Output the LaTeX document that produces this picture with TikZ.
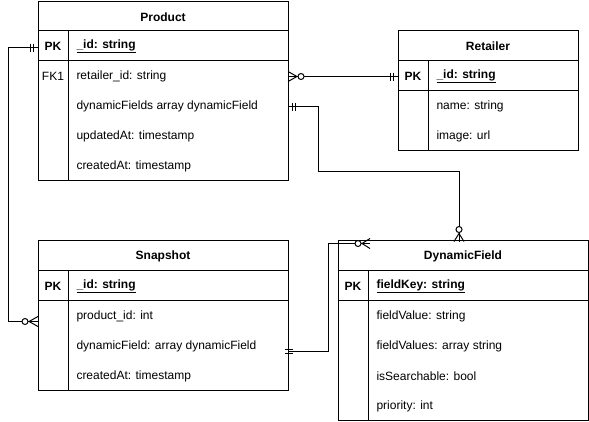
\documentclass[tikz,border=0pt]{standalone}
\usepackage{fontspec}
\setmainfont{Liberation Sans}
\usetikzlibrary{positioning,calc}

\begin{document}
\begin{tikzpicture}[x=1pt,y=-1pt,line width=1pt,
  every node/.style={font=\fontsize{12}{14}\selectfont,inner sep=0pt,yshift=-1.5pt},
  title/.style={font=\fontsize{12}{14}\selectfont\bfseries},
  field/.style={anchor=west},
  keytag/.style={font=\fontsize{12}{14}\selectfont\bfseries},
  keyfield/.style={anchor=west,font=\fontsize{12}{14}\selectfont\bfseries}]
  \useasboundingbox (0,0) rectangle (589,421);

  % Product
  \draw (38,1) rectangle (288,180);
  \draw (38,30) -- (288,30);
  \draw (38,60) -- (288,60);
  \draw (68,30) -- (68,180);
  \node[title] (prodtitle) at (163,16) {Product};
  \node[keytag] (prodpk) at (53,45) {PK};
  \node[keyfield] (prodid) at (76,45) {\underline{\_id: string}};
  \node (prodfk) at (53,75) {FK1};
  \foreach \txt [count=\i] in {retailer\_id: string, dynamicFields array dynamicField,
      updatedAt: timestamp, createdAt: timestamp}
    \node[field] (prod\i) at (76,{45+30*\i}) {\txt};

  % Retailer
  \draw (398,30) rectangle (578,150);
  \draw (398,60) -- (578,60);
  \draw (398,90) -- (578,90);
  \draw (428,60) -- (428,150);
  \node[title] (rettitle) at (488,45) {Retailer};
  \node[keytag] (retpk) at (413,75) {PK};
  \node[keyfield] (retid) at (436,75) {\underline{\_id: string}};
  \foreach \txt [count=\i] in {name: string, image: url}
    \node[field] (ret\i) at (436,{75+30*\i}) {\txt};

  % Snapshot
  \draw (38,240) rectangle (288,390);
  \draw (38,270) -- (288,270);
  \draw (38,300) -- (288,300);
  \draw (68,270) -- (68,390);
  \node[title] (snaptitle) at (163,255) {Snapshot};
  \node[keytag] (snappk) at (53,285) {PK};
  \node[keyfield] (snapid) at (76,285) {\underline{\_id: string}};
  \foreach \txt [count=\i] in {product\_id: int, dynamicField: array dynamicField,
      createdAt: timestamp}
    \node[field] (snap\i) at (76,{285+30*\i}) {\txt};

  % DynamicField
  \draw (338,240) rectangle (588,420);
  \draw (338,270) -- (588,270);
  \draw (338,300) -- (588,300);
  \draw (368,270) -- (368,420);
  \node[title] (dyntitle) at (463,255) {DynamicField};
  \node[keytag] (dynpk) at (353,285) {PK};
  \node[keyfield] (dynkey) at (376,285) {\underline{fieldKey: string}};
  \foreach \txt [count=\i] in {fieldValue: string, fieldValues: array string,
      isSearchable: bool, priority: int}
    \node[field] (dyn\i) at (376,{285+30*\i}) {\txt};

  % connector ends
  \coordinate (prodL) at (38,46);
  \coordinate (snapL) at (38,320);
  \coordinate (prodR1) at (288,75);
  \coordinate (retL) at (398,75);
  \coordinate (prodR2) at (288,105);
  \coordinate (dynT) at (459,240);
  \coordinate (snapR) at (288,350);
  \coordinate (dynTL) at (370,242);

  % Product -- Snapshot
  \draw (prodL) -- ++(-30,0) |- (snapL);
  \draw ($(prodL)+(-8,-4)$) -- ++(0,8);
  \draw ($(prodL)+(-5,-4)$) -- ++(0,8);
  \draw[fill=white] ($(snapL)+(-13,0)$) circle (3);
  \draw ($(snapL)+(-9,0)$) -- ++(9,-5);
  \draw ($(snapL)+(-9,0)$) -- ++(9,5);

  % Product -- Retailer
  \draw (prodR1) -- (retL);
  \draw ($(prodR1)+(0,-5)$) -- ($(prodR1)+(9,0)$) -- ($(prodR1)+(0,5)$);
  \draw[fill=white] ($(prodR1)+(13,0)$) circle (3);
  \draw ($(retL)+(-8,-4)$) -- ++(0,8);
  \draw ($(retL)+(-5,-4)$) -- ++(0,8);

  % Product -- DynamicField
  \draw (prodR2) -- ++(30,0) |- ($(dynT)+(0,-70)$) -- (dynT);
  \draw ($(prodR2)+(4,-4)$) -- ++(0,8);
  \draw ($(prodR2)+(7,-4)$) -- ++(0,8);
  \draw[fill=white] ($(dynT)+(0,-12)$) circle (3);
  \draw ($(dynT)+(-5,0)$) -- ($(dynT)+(0,-8)$) -- ($(dynT)+(5,0)$);

  % Snapshot -- DynamicField
  \draw (snapR) -- ++(40,0) |- (dynTL);
  \draw ($(snapR)+(-3,-2)$) -- ++(8,0);
  \draw ($(snapR)+(-3,2)$) -- ++(8,0);
  \draw[fill=white] ($(dynTL)+(-12,0)$) circle (3);
  \draw ($(dynTL)+(0,-5)$) -- ($(dynTL)+(-8,0)$) -- ($(dynTL)+(0,5)$);
\end{tikzpicture}
\end{document}
